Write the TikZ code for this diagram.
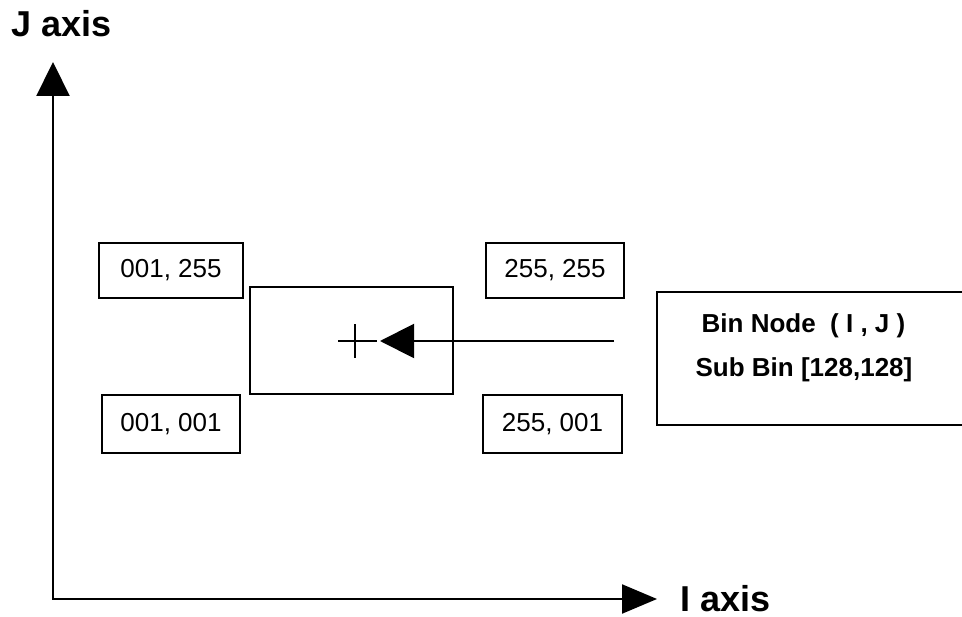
\documentclass[tikz,border=0pt]{standalone}
\usepackage{fontspec}
\setmainfont{Liberation Sans}
\usetikzlibrary{arrows.meta}
\begin{document}
\begin{tikzpicture}[x=1pt,y=-1pt,
  axisline/.style={line width=2.2pt,{Triangle[length=34pt,width=33pt]}-{Triangle[length=35pt,width=29pt]}},
  cornerbox/.style={draw,line width=2pt,inner sep=0pt,font=\fontsize{26}{30}\selectfont},
  axislabel/.style={anchor=base west,inner sep=0pt,text depth=0pt,font=\fontsize{36}{40}\selectfont\bfseries},
  bintext/.style={anchor=base,inner sep=0pt,font=\fontsize{26}{30}\selectfont\bfseries},
  thinline/.style={line width=2pt}]
\useasboundingbox (0,0) rectangle (962,617);
% axes
\coordinate (jtip) at (53,62);
\coordinate (origin) at (53,599);
\coordinate (itip) at (657,599);
\draw[axisline] (jtip) -- (origin) -- (itip);
\node[axislabel] (jlabel) at (11,37) {J axis};
\node[axislabel] (ilabel) at (680,611) {I axis};
% corner boxes
\node[cornerbox,minimum width=144pt,minimum height=55pt] (b1) at (171,270.5) {001, 255};
\node[cornerbox,minimum width=138pt,minimum height=55pt] (b2) at (555,270.5) {255, 255};
\node[cornerbox,minimum width=138pt,minimum height=58pt] (b3) at (171,424) {001, 001};
\node[cornerbox,minimum width=139pt,minimum height=58pt] (b4) at (552.5,424) {255, 001};
% sub bin rectangle
\node[draw,line width=2pt,minimum width=203pt,minimum height=107pt,inner sep=0pt] (subbin) at (351.5,340.5) {};
% plus sign
\coordinate (pc) at (355,341);
\draw[line width=1.6pt] ([xshift=-17pt]pc) -- ([xshift=22pt]pc);
\draw[line width=1.6pt] ([yshift=-17pt]pc) -- ([yshift=17pt]pc);
% arrow
\coordinate (astart) at (614,341);
\coordinate (aend) at (380,341);
\draw[thinline,-{Triangle[length=34pt,width=34pt]}] (astart) -- (aend);
% bin node box (open on the right)
\coordinate (bntr) at (962,292);
\coordinate (bntl) at (657,292);
\coordinate (bnbl) at (657,425);
\coordinate (bnbr) at (962,425);
\draw[thinline] (bntr) -- (bntl) -- (bnbl) -- (bnbr);
\node[bintext] (t1) at (803.5,333) {Bin Node\ \ ( I , J )};
\node[bintext] (t2) at (804,377) {Sub Bin [128,128]};
\end{tikzpicture}
\end{document}
